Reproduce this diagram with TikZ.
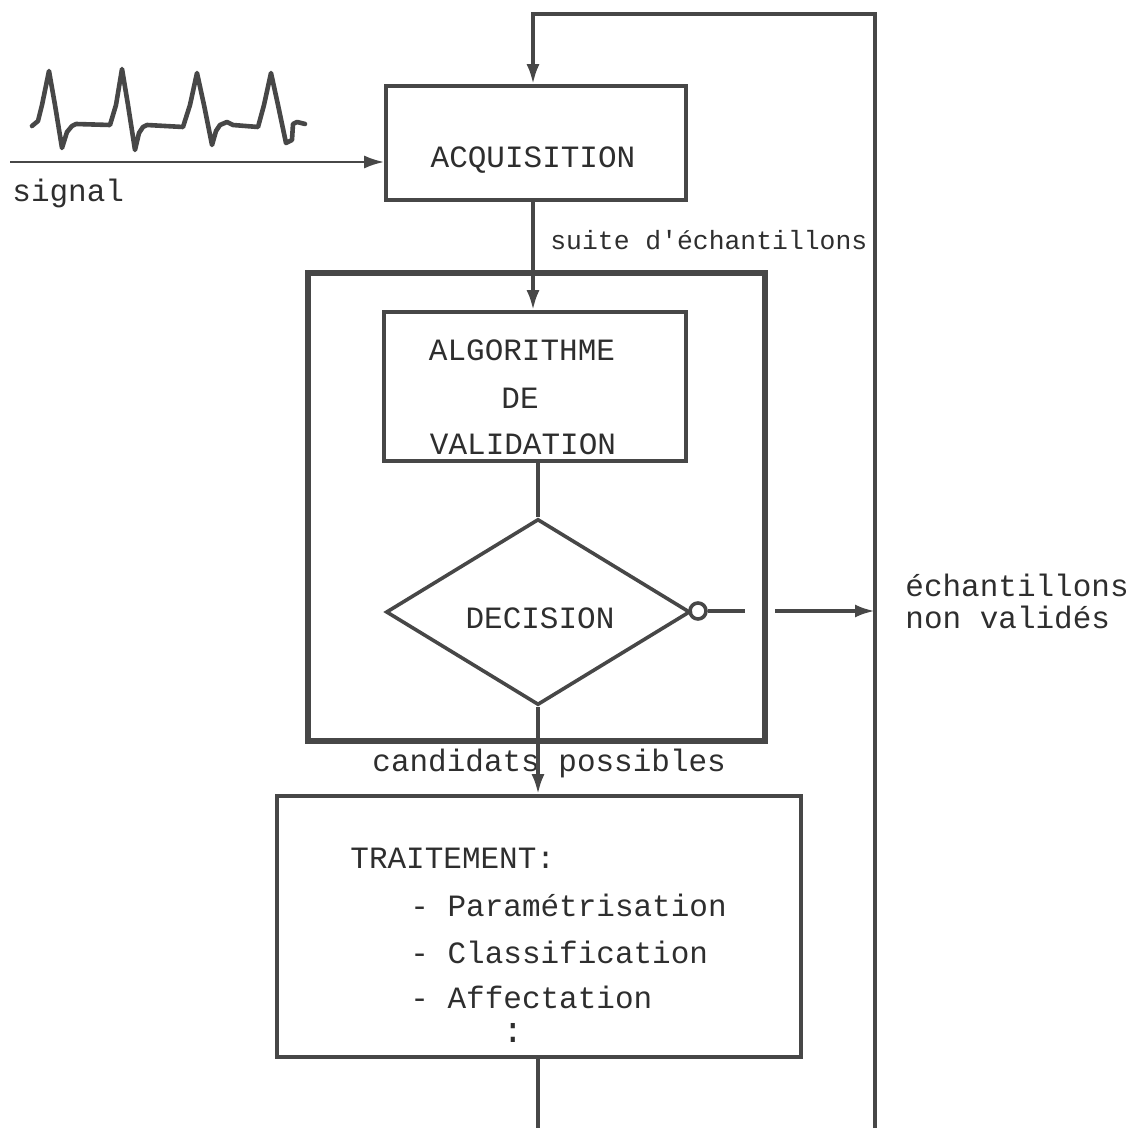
\documentclass[tikz,border=0pt]{standalone}
\usepackage{fontspec}
\setmonofont{Liberation Mono}
\usetikzlibrary{arrows.meta,shapes.geometric}
\begin{document}
\begin{tikzpicture}[x=0.5pt,y=-0.5pt,
  ln/.style={line width=1.8pt, draw=black!72},
  box/.style={draw=black!72, line width=1.8pt, inner sep=0pt, rectangle},
  txt/.style={font=\ttfamily\fontsize{15.5}{18}\selectfont, inner sep=0pt, text=black!82},
  stxt/.style={font=\ttfamily\fontsize{13.2}{16}\selectfont, inner sep=0pt, text=black!82},
  arr/.style={-{Latex[length=10pt,width=6.5pt]}},
]
\useasboundingbox (0,0) rectangle (1133,1128);

% boxes
\node[box, minimum width=150pt, minimum height=57pt] (acq) at (536,143) {};
\node[box, line width=3pt, minimum width=228.5pt, minimum height=234pt] (outer) at (536.5,507) {};
\node[box, minimum width=151pt, minimum height=74.5pt] (algo) at (535,386.5) {};
\node[draw=black!72, line width=1.8pt, diamond, inner sep=0pt, minimum width=152pt, minimum height=93pt] (dec) at (538,612) {};
\node[box, minimum width=262pt, minimum height=130.5pt] (trait) at (539,926.5) {};
\node[circle, draw=black!72, line width=1.8pt, inner sep=0pt, minimum size=8pt] (nc) at (698,611) {};

% texts
\node[txt] (acqt) at (533,160) {ACQUISITION};
\node[txt] (algot1) at (522,350) {ALGORITHME};
\node[txt] (algot2) at (520,398) {DE};
\node[txt] (algot3) at (523,444) {VALIDATION};
\node[txt] (dect) at (540,618) {DECISION};
\node[txt, anchor=west] (tr0) at (350,858) {TRAITEMENT:};
\node[txt, anchor=west] (tr1) at (410,905) {- Paramétrisation};
\node[txt, anchor=west] (tr2) at (410,952) {- Classification};
\node[txt, anchor=west] (tr3) at (410,997) {- Affectation};
\node[txt, font=\ttfamily\fontsize{18}{20}\selectfont] (tr4) at (513,1033) {:};
\node[txt, anchor=west] (sigt) at (12,193) {signal};
\node[stxt, anchor=west] (suite) at (550,240) {suite d'échantillons};
\node[txt, anchor=west] (cand) at (372,763) {candidats possibles};
\node[txt, anchor=west] (nv1) at (905,585) {échantillons};
\node[txt, anchor=west] (nv2) at (905,617) {non validés};

% coordinates
\coordinate (rb) at (875,1128);
\coordinate (rt) at (875,14);
\coordinate (lt) at (533,14);
\coordinate (sig) at (10,162);
\coordinate (ne) at (745,611);
\coordinate (na) at (775,611);
\coordinate (nr) at (875,611);
\coordinate (bb) at (538,1128);

% connectors
\draw[ln, arr] (rb) -- (rt) -- (lt) -- (lt |- acq.north);
\draw[line width=1.3pt, draw=black!72, arr] (sig) -- (sig -| acq.west);
\draw[ln, arr] (acq.south -| lt) -- (algo.north -| lt);
\draw[ln] (algo.south -| dec.north) -- (dec.north);
\draw[ln] (nc.east) -- (ne);
\draw[ln, arr] (na) -- (nr);
\draw[ln, arr] (dec.south) -- (dec.south |- trait.north);
\draw[ln] (trait.south -| bb) -- (bb);

% ECG waveform
\draw[line width=2.3pt, draw=black!72, line join=round, line cap=round]
  plot coordinates {(32,126) (38,121) (42,105) (49,71) (55,105) (62,148) (67,132) (72,126) (76,124) (110,125)
  (116,105) (122,69) (128,105) (135,150) (139,133) (143,127) (147,125) (183,127)
  (190,105) (197,73) (204,105) (212,145) (216,131) (220,125) (227,122) (233,125) (258,127)
  (264,105) (271,73) (278,105) (286,143) (292,140) (293,124) (297,122) (305,124)};
\end{tikzpicture}
\end{document}
